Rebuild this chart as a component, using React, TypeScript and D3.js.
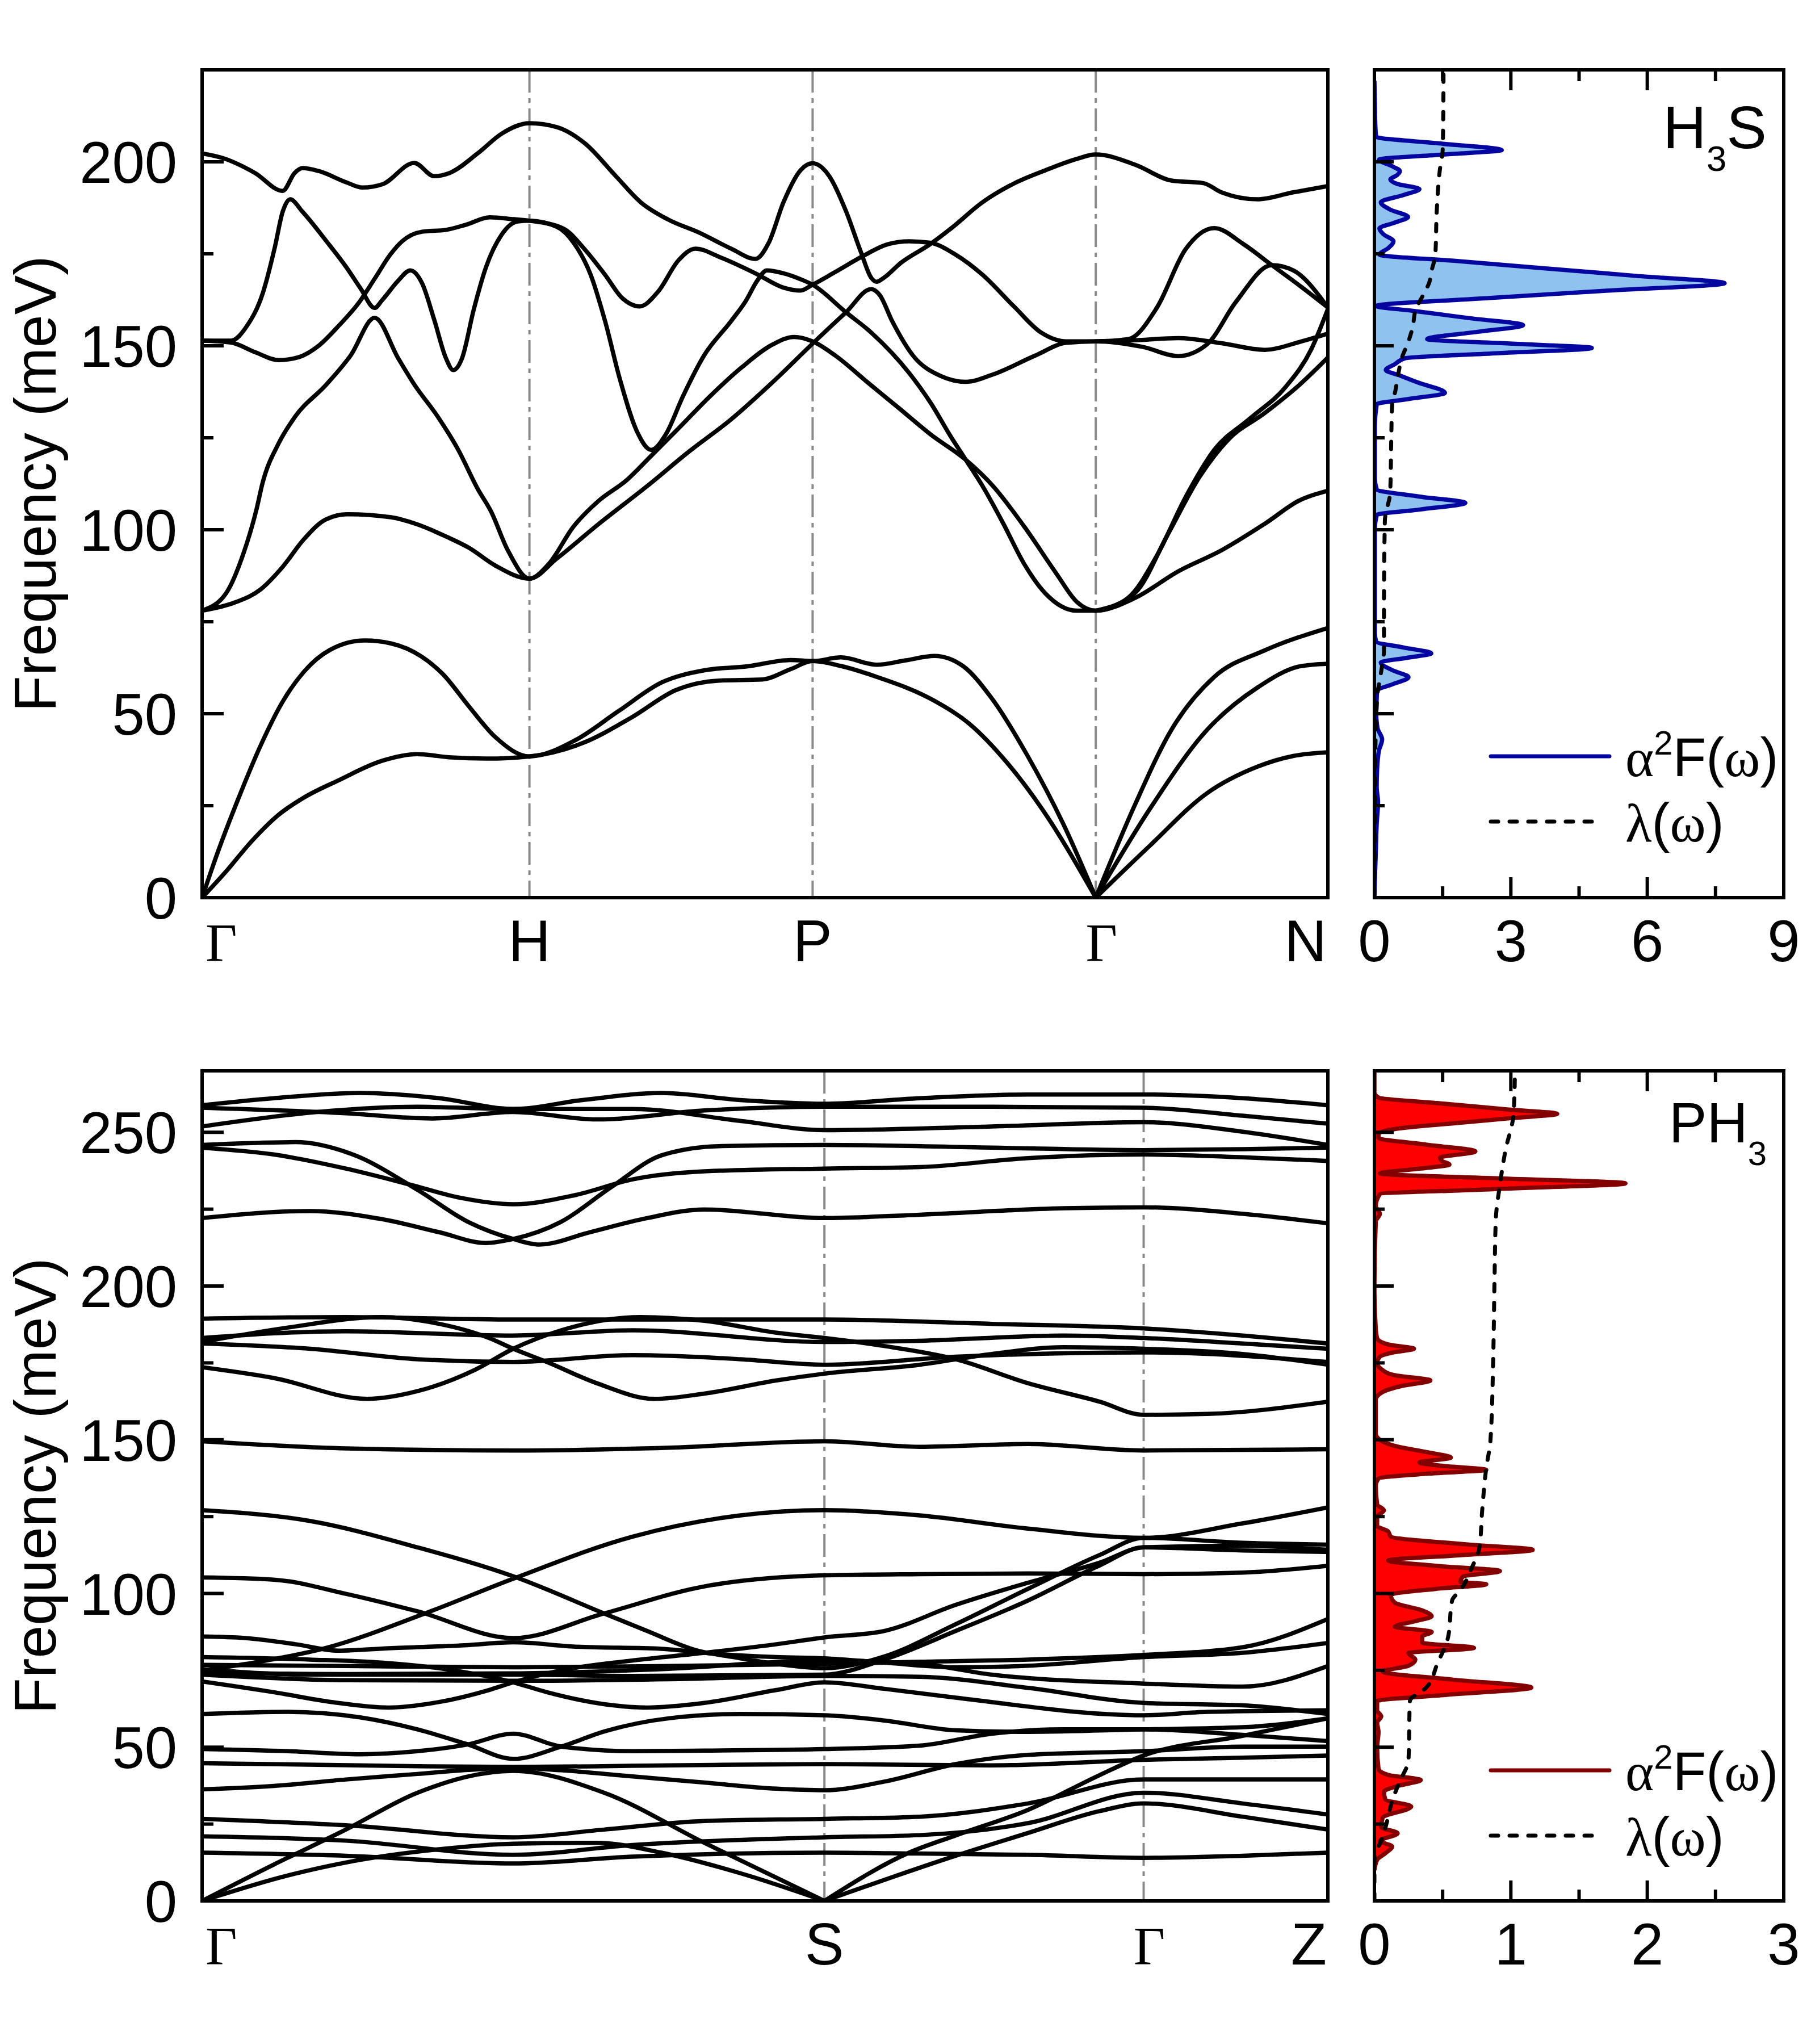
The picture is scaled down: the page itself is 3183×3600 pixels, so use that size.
import React from "react";
import * as d3 from "d3";

type Pt = [number, number];

// ---------- data: H3S phonon branches, [k (path distance), frequency meV] ----------
const h3sPoints = [
  { label: "Γ", k: 0 },
  { label: "H", k: 1.0 },
  { label: "P", k: 1.865 },
  { label: "Γ", k: 2.73 },
  { label: "N", k: 3.439 },
];

const h3sBranches: Pt[][] = [
  [[0,0],[0.073,7.1],[0.152,15.4],[0.232,22.4],[0.311,27.2],[0.417,31.9],[0.55,37.2],[0.656,39.0],[0.762,38.1],[0.868,37.8],[1.0,38.4],[1.162,42.0],[1.316,49.2],[1.447,56.4],[1.579,59.0],[1.711,59.3],[1.798,62.1],[1.865,64.3],[1.95,63.0],[2.061,60.0],[2.237,53.5],[2.346,47.1],[2.456,37.0],[2.566,24.1],[2.73,0]],
  [[0,0],[0.046,11.9],[0.112,27.2],[0.179,41.4],[0.245,53.1],[0.311,61.4],[0.39,67.3],[0.497,69.9],[0.577,69.1],[0.669,65.6],[0.735,60.8],[0.815,52.0],[0.895,43.7],[1.0,38.4],[1.14,42.8],[1.272,50.7],[1.404,58.5],[1.535,61.8],[1.667,62.9],[1.798,64.6],[1.865,64.3],[1.952,65.3],[2.061,63.3],[2.15,64.5],[2.237,65.7],[2.325,62.9],[2.412,54.2],[2.522,38.5],[2.632,19.8],[2.73,0]],
  [[2.73,0],[2.851,25.5],[2.961,45.6],[3.092,60.0],[3.246,67.2],[3.439,73.3]],
  [[2.73,0],[2.895,24.1],[3.07,45.6],[3.224,57.1],[3.355,62.9],[3.439,63.6]],
  [[2.73,0],[2.895,14.1],[3.07,28.4],[3.224,35.6],[3.333,38.5],[3.439,39.5]],
  [[0,78],[0.099,80.2],[0.179,83.8],[0.245,89.8],[0.311,97.4],[0.378,102.8],[0.444,104.2],[0.577,103.4],[0.656,101.5],[0.749,98.0],[0.815,95.1],[0.895,90.3],[1.0,86.7],[1.058,90.6],[1.135,100.9],[1.212,107.9],[1.296,113.4],[1.372,120.1],[1.456,127.6],[1.552,136.3],[1.648,144.1],[1.744,150.4],[1.808,152.4],[1.865,151.2],[1.935,147.3],[2.031,140.2],[2.128,133.1],[2.224,126.0],[2.333,119.0],[2.416,111.9],[2.512,100.8],[2.608,88.3],[2.672,80.4],[2.73,78],[2.851,81.5],[2.982,88.7],[3.114,94.4],[3.246,101.6],[3.355,108.1],[3.439,110.6]],
  [[0,78],[0.073,82.7],[0.125,93.2],[0.165,105.1],[0.185,112.8],[0.234,123.5],[0.283,130.6],[0.38,139.5],[0.454,147.4],[0.527,157.6],[0.599,146.6],[0.648,139.5],[0.721,130.6],[0.782,121.8],[0.842,111.1],[0.882,105.1],[0.934,94.4],[1.0,86.7],[1.084,92.2],[1.212,101.6],[1.36,111.9],[1.488,121.3],[1.616,130.0],[1.744,140.2],[1.865,150.6],[1.967,159.1],[2.044,165.4],[2.07,163.8],[2.108,156.7],[2.172,147.3],[2.256,141.8],[2.333,140.2],[2.416,142.2],[2.544,147.3],[2.64,150.8],[2.73,151.2],[2.873,149.7],[2.982,147.2],[3.07,150.4],[3.158,161.9],[3.268,171.9],[3.333,170.5],[3.439,160.4]],
  [[0,151.4],[0.088,151.4],[0.137,155.4],[0.185,164.2],[0.222,176.7],[0.246,186.4],[0.269,189.8],[0.307,186.4],[0.38,178.4],[0.441,171.3],[0.484,165.6],[0.527,160.3],[0.551,162.5],[0.599,167.7],[0.636,170.5],[0.672,167.0],[0.709,157.1],[0.745,146.6],[0.767,143.4],[0.794,146.6],[0.83,159.9],[0.867,171.3],[0.915,180.2],[0.964,183.8],[1.0,184.0],[1.084,182.3],[1.135,178.0],[1.187,169.3],[1.231,156.7],[1.276,141.0],[1.328,126.8],[1.372,121.7],[1.417,126.0],[1.469,136.3],[1.533,147.3],[1.616,156.7],[1.661,162.2],[1.696,167.7],[1.725,170.5],[1.776,169.7],[1.828,168.1],[1.865,166.6],[1.967,159.1],[2.044,153.6],[2.16,142.6],[2.224,134.7],[2.288,125.2],[2.333,119.0],[2.384,111.9],[2.448,101.6],[2.512,90.6],[2.576,82.7],[2.672,78.0],[2.73,78],[2.829,81.5],[2.917,93.0],[3.004,108.8],[3.092,121.7],[3.202,130.3],[3.311,138.9],[3.388,149.0],[3.439,160.0]],
  [[0,151.4],[0.088,150.9],[0.161,148.3],[0.234,146.1],[0.295,146.9],[0.356,150.0],[0.417,155.4],[0.478,161.6],[0.527,168.2],[0.575,174.8],[0.611,178.4],[0.672,181.0],[0.745,181.5],[0.806,182.9],[0.879,184.9],[0.952,184.4],[1.0,184.0],[1.103,181.9],[1.167,176.4],[1.231,169.3],[1.283,163.0],[1.337,160.7],[1.392,164.6],[1.456,173.3],[1.507,176.4],[1.584,174.0],[1.69,169.7],[1.776,165.8],[1.828,165.0],[1.865,166.6],[1.935,170.1],[2.019,174.4],[2.095,177.6],[2.16,178.4],[2.224,178.0],[2.301,174.8],[2.384,169.3],[2.48,160.7],[2.563,153.6],[2.64,151.2],[2.73,151.2],[2.829,151.8],[2.917,160.4],[3.004,176.2],[3.092,182.0],[3.18,177.7],[3.268,171.9],[3.355,166.2],[3.439,160.4]],
  [[0,202.3],[0.064,201.0],[0.161,197.0],[0.246,192.1],[0.283,197.0],[0.307,198.3],[0.356,197.5],[0.441,194.4],[0.49,193.0],[0.551,193.9],[0.648,199.7],[0.709,196.1],[0.757,197.0],[0.842,202.3],[0.916,207.7],[1.0,210.5],[1.085,209.4],[1.171,204.9],[1.264,196.1],[1.34,189.0],[1.424,184.3],[1.52,180.7],[1.616,176.4],[1.69,173.6],[1.731,178.0],[1.776,189.0],[1.828,197.7],[1.865,199.6],[1.916,196.1],[1.967,186.6],[2.012,175.6],[2.044,168.5],[2.06,167.4],[2.083,168.5],[2.134,172.5],[2.224,177.6],[2.288,181.9],[2.384,189.0],[2.48,194.1],[2.576,197.7],[2.672,200.8],[2.73,202.0],[2.851,199.2],[2.961,194.9],[3.059,194.2],[3.114,191.7],[3.224,189.8],[3.333,191.7],[3.439,193.4]],
  [[2.73,151.2],[2.85,151.5],[2.982,152.1],[3.114,150.7],[3.246,148.9],[3.355,151.1],[3.439,153.3]],
  [[2.73,78],[2.851,82.9],[2.95,98.7],[3.048,114.5],[3.136,124.6],[3.246,131.7],[3.355,139.6],[3.439,146.8]],
];

// ---------- data: PH3 phonon branches ----------
const ph3Points = [
  { label: "Γ", k: 0 },
  { label: "S", k: 1 },
  { label: "Γ", k: 1.513 },
  { label: "Z", k: 1.809 },
];

const ph3Branches: Pt[][] = [
  [[0,258.8],[0.115,261.1],[0.254,262.8],[0.381,261.1],[0.5,257.6],[0.611,260.5],[0.738,262.8],[0.865,260.5],[1,259.3],[1.153,261.1],[1.327,262.3],[1.513,262.3],[1.672,261.1],[1.809,258.8]],
  [[0,258.0],[0.231,256.2],[0.369,254.5],[0.5,256.6],[0.634,254.2],[0.807,257.1],[1,258.3],[1.269,258.3],[1.513,258.0],[1.672,255.4],[1.809,252.8]],
  [[0,251.9],[0.185,256.6],[0.346,258.3],[0.5,257.6],[0.692,257.6],[0.865,253.7],[1,250.7],[1.269,251.9],[1.513,253.3],[1.672,250.2],[1.809,245.9]],
  [[0,245.9],[0.15,246.8],[0.242,242.8],[0.346,231.3],[0.427,220.9],[0.5,215.3],[0.542,213.5],[0.623,217.5],[0.715,222.1],[0.807,224.9],[1,222.1],[1.153,223.2],[1.384,225.3],[1.513,225.6],[1.672,223.5],[1.809,220.4]],
  [[0,222.1],[0.173,224.4],[0.288,221.8],[0.381,217.5],[0.456,214.0],[0.5,215.3],[0.577,220.9],[0.657,232.1],[0.738,242.5],[0.83,245.5],[1,245.9],[1.269,245.0],[1.513,244.2],[1.672,244.5],[1.809,245.0]],
  [[0,245.0],[0.115,242.8],[0.231,238.2],[0.334,233.0],[0.415,228.7],[0.5,226.6],[0.6,229.6],[0.692,234.7],[0.807,237.3],[1,238.2],[1.153,238.7],[1.327,241.6],[1.513,242.8],[1.672,241.9],[1.809,240.7]],
  [[0,189.4],[0.231,189.9],[0.5,189.1],[0.807,189.1],[1,189.1],[1.269,187.7],[1.513,186.2],[1.672,183.9],[1.809,181.3]],
  [[0,181.8],[0.138,186.5],[0.288,189.9],[0.381,187.7],[0.461,183.1],[0.5,179.6],[0.554,175.3],[0.634,168.4],[0.727,163.3],[0.807,165.0],[0.923,169.3],[1,171.5],[1.153,174.4],[1.269,177.9],[1.384,180.1],[1.513,179.6],[1.672,177.9],[1.809,174.4]],
  [[0,173.6],[0.115,170.1],[0.265,163.3],[0.346,165.8],[0.438,172.7],[0.5,179.6],[0.577,185.6],[0.704,189.9],[0.807,188.7],[0.923,184.8],[1,183.1],[1.096,180.5],[1.211,176.2],[1.327,168.4],[1.442,162.4],[1.513,158.1],[1.615,158.4],[1.809,162.4]],
  [[0,183.1],[0.231,185.3],[0.5,183.9],[0.692,185.6],[1,181.8],[1.153,182.2],[1.384,183.9],[1.513,183.1],[1.672,181.3],[1.809,179.6]],
  [[0,181.3],[0.173,179.6],[0.346,176.2],[0.5,175.3],[0.692,177.5],[0.865,176.2],[1,174.4],[1.211,177.0],[1.513,178.4],[1.809,175.3]],
  [[0,149.5],[0.231,147.2],[0.5,146.5],[0.75,147.4],[1,149.5],[1.153,147.7],[1.327,148.6],[1.513,146.5],[1.809,146.9]],
  [[0,105.2],[0.115,104.5],[0.231,99.9],[0.346,94.2],[0.5,85.5],[0.646,93.5],[0.807,102.3],[1,105.9],[1.153,106.3],[1.327,106.5],[1.513,106.3],[1.672,106.8],[1.809,109.0]],
  [[0,75.0],[0.092,77.8],[0.196,82.1],[0.358,93.5],[0.5,104.8],[0.692,118.5],[0.865,125.4],[1,127.1],[1.153,125.4],[1.327,121.1],[1.513,118.1],[1.672,122.8],[1.809,128.0]],
  [[0,127.1],[0.173,123.6],[0.346,115.0],[0.5,105.6],[0.646,93.5],[0.715,87.8],[0.796,81.4],[0.854,79.3],[0.923,77.1],[1,75.7],[1.096,79.5],[1.211,90.0],[1.327,101.5],[1.442,112.5],[1.513,118.1],[1.672,116.5],[1.809,115.9]],
  [[0,60.8],[0.138,61.5],[0.254,59.7],[0.346,55.8],[0.427,50.9],[0.5,46.2],[0.577,50.2],[0.646,55.1],[0.75,59.4],[0.865,60.8],[1,60.4],[1.096,58.7],[1.211,55.5],[1.327,55.0],[1.513,55.8],[1.672,56.5],[1.809,59.4]],
  [[0,49.4],[0.138,48.7],[0.254,47.7],[0.346,48.7],[0.427,50.9],[0.5,54.4],[0.577,50.2],[0.692,48.7],[0.807,48.9],[1,49.4],[1.153,50.5],[1.269,54.4],[1.384,55.8],[1.513,55.8],[1.672,54.0],[1.809,52.0]],
  [[0,44.8],[0.346,43.8],[0.5,43.6],[0.75,44.1],[1,44.5],[1.269,44.1],[1.513,45.9],[1.672,46.6],[1.809,47.3]],
  [[0,36.3],[0.115,37.4],[0.231,39.5],[0.346,41.3],[0.427,42.6],[0.5,43.3],[0.577,42.5],[0.692,40.5],[0.807,38.5],[0.923,36.5],[1,36.0],[1.096,38.8],[1.211,44.5],[1.327,47.5],[1.513,48.7],[1.672,50.2],[1.809,50.2]],
  [[0,0],[0.115,11.8],[0.231,23.2],[0.346,35.2],[0.5,42.3],[0.646,35.2],[0.807,18.9],[1,0]],
  [[1,0],[1.136,15.7],[1.211,21.3],[1.327,29.6],[1.442,40.9],[1.513,47.3],[1.672,53.7],[1.809,59.4]],
  [[0,0],[0.138,8.3],[0.231,12.5],[0.381,16.8],[0.5,18.6],[0.634,18.9],[0.738,15.7],[0.865,9.0],[1,0]],
  [[1,0],[1.211,14.7],[1.327,22.1],[1.442,29.2],[1.513,31.7],[1.672,27.4],[1.809,23.2]],
  [[0,26.7],[0.231,24.6],[0.5,20.7],[0.646,23.2],[0.807,26.0],[1,26.7],[1.153,27.4],[1.327,31.7],[1.513,39.5],[1.672,39.5],[1.809,39.5]],
  [[0,21.0],[0.231,19.6],[0.5,15.0],[0.692,18.2],[1,20.7],[1.153,21.4],[1.327,25.3],[1.513,35.2],[1.672,31.7],[1.809,28.1]],
  [[0,15.7],[0.231,14.7],[0.5,12.2],[0.692,14.4],[1,15.7],[1.153,15.4],[1.327,15.0],[1.513,14.0],[1.672,14.7],[1.809,15.7]],
  [[0,71.4],[0.115,67.9],[0.208,64.7],[0.3,62.9],[0.381,64.7],[0.461,68.6],[0.5,71.1],[0.577,75.0],[0.692,78.2],[0.807,80.7],[0.923,83.5],[1,85.7],[1.096,87.8],[1.211,96.3],[1.327,103.5],[1.442,110.0],[1.513,115.0],[1.672,115.5],[1.809,114.2]],
  [[0,79.3],[0.173,78.5],[0.288,77.5],[0.404,75.0],[0.5,71.1],[0.554,67.9],[0.646,64.0],[0.715,62.9],[0.807,64.4],[0.923,68.6],[1,71.1],[1.096,69.0],[1.211,66.1],[1.513,60.4],[1.615,61.5],[1.809,62.0]],
  [[0,86.0],[0.069,85.5],[0.15,83.5],[0.219,81.4],[0.3,82.2],[0.427,83.2],[0.5,84.1],[0.6,82.7],[0.738,82.0],[0.83,80.3],[0.923,79.3],[1,78.9],[1.096,77.5],[1.211,76.0],[1.327,76.5],[1.513,79.3],[1.672,80.7],[1.809,83.9]],
  [[0,74.3],[0.231,73.8],[0.5,74.0],[0.75,75.5],[1,78.2],[1.153,77.1],[1.269,73.6],[1.513,70.7],[1.672,69.7],[1.809,76.4]],
  [[0,76.8],[0.231,76.4],[0.5,76.0],[0.75,76.4],[1,77.1],[1.153,77.8],[1.327,78.5],[1.513,80.0],[1.672,82.5],[1.809,91.7]],
  [[0,75.4],[0.173,73.6],[0.346,73.6],[0.5,73.6],[0.692,73.2],[1,73.6],[1.096,78.5],[1.211,87.8],[1.327,97.7],[1.442,109.1],[1.513,115.0],[1.672,114.0],[1.809,113.5]],
  [[0,73.6],[0.231,71.8],[0.5,71.6],[0.75,72.1],[1,73.2],[1.153,72.9],[1.327,69.3],[1.513,64.4],[1.672,63.6],[1.809,60.8]],
];

// ---------- data: Eliashberg function and lambda, [frequency meV, value] ----------
const h3sA2F: Pt[] = [
  [0,0],[5,0.01],[12,0.03],[20,0.05],[26,0.08],[30,0.05],[35,0.06],[40,0.1],[43,0.17],[46,0.07],[50,0.04],[54,0.05],[56.3,0.06],[58,0.4],[59.9,0.75],[61.8,0.4],[63.9,0.14],[65.2,0.72],[66.4,1.25],[68,0.64],[69.6,0.04],[72,0.01],[85,0.01],[100,0.01],[104,0.05],[105.5,1.0],[107.3,2.0],[109,1.0],[111,0.05],[114,0.01],[128,0.01],[134.1,0.05],[135.5,0.73],[137.2,1.55],[140,0.96],[142,0.54],[143.4,0.25],[145,0.45],[146.6,0.67],[148,2.73],[149.4,4.78],[150.6,2.97],[151.8,1.16],[153.8,2.27],[155.6,3.27],[157.5,2.09],[159.5,0.85],[160.8,0.04],[163,2.55],[165,5.15],[167,7.7],[169,5.75],[171,3.8],[173,1.86],[174.8,0.11],[176.5,0.3],[178.4,0.42],[180.3,0.2],[181.9,0.11],[183.5,0.45],[185,0.74],[187,0.35],[189,0.14],[191,0.65],[192.6,0.99],[194,0.5],[195.2,0.35],[196.4,0.5],[197.5,0.56],[198.8,0.39],[200.6,0.1],[202,1.55],[203.2,2.8],[205,1.42],[206.8,0.04],[210,0.02],[216,0.01],[222,0],
];
const h3sLambda: Pt[] = [
  [0,0],[30,0.01],[45,0.03],[55.6,0.07],[58,0.1],[60.8,0.14],[64,0.18],[67,0.21],[78.5,0.21],[102.5,0.23],[106,0.28],[108.5,0.33],[111.1,0.35],[124.4,0.37],[134,0.39],[137.7,0.46],[142,0.52],[146.6,0.6],[150.9,0.74],[155,0.84],[159.9,0.91],[164.2,1.09],[167,1.2],[170.5,1.26],[174.8,1.34],[186.4,1.37],[197.9,1.44],[203,1.5],[208.5,1.51],[225,1.52],
];
const ph3A2F: Pt[] = [
  [10,0],[13.4,0.02],[15.5,0.08],[17.7,0.13],[19.5,0.04],[22,0.17],[24,0.05],[27,0.06],[30.7,0.27],[33,0.08],[35.5,0.07],[37.5,0.18],[39.3,0.34],[41,0.1],[43,0.03],[50,0.02],[55,0.03],[58,0.02],[60,0.05],[62,0.02],[65,0.02],[67,0.52],[69.4,1.15],[72,0.57],[74.6,0.06],[76.5,0.25],[78.5,0.3],[80.6,0.25],[82.3,0.73],[84,0.35],[86,0.35],[87.5,0.42],[89.2,0.15],[91,0.3],[92.6,0.42],[94.5,0.35],[97,0.15],[99.5,0.12],[101.5,0.45],[103,0.82],[103.8,0.63],[105.5,0.65],[107.3,0.92],[109,0.45],[110.7,0.1],[112.5,0.65],[114.2,1.16],[116,0.67],[118.5,0.12],[120.2,0.1],[122,0.02],[125,0.02],[127,0.07],[129,0.02],[135,0.01],[137.4,0.03],[139,0.4],[140.2,0.82],[141.5,0.5],[142.6,0.33],[144.2,0.56],[146,0.38],[148,0.15],[150,0.04],[152,0.01],[163,0.01],[165.5,0.06],[167.5,0.2],[169.3,0.41],[171,0.15],[173,0.05],[175,0.02],[177,0.04],[178.5,0.15],[179.6,0.29],[181,0.1],[183,0.02],[186,0.01],[200,0],[221,0.01],[223.5,0.04],[226,0.01],[229.9,0.04],[231.5,0.87],[233.4,1.84],[235,0.92],[236.6,0.04],[238.5,0.4],[239.5,0.55],[240.6,0.5],[241.7,0.48],[243.8,0.74],[246,0.38],[248.2,0.03],[249.5,0.03],[251.2,0.17],[253,0.6],[254.6,1.0],[256,1.34],[257.5,0.96],[259.5,0.46],[261.3,0.03],[263,0],[270,0],
];
const ph3Lambda: Pt[] = [
  [0,0],[15,0],[18.6,0.04],[23.8,0.08],[32.4,0.13],[39.3,0.19],[44,0.24],[46,0.25],[65,0.26],[69.4,0.38],[77,0.46],[85.8,0.54],[97.8,0.57],[101,0.63],[108,0.71],[115,0.77],[127,0.79],[140.9,0.82],[149.5,0.85],[175,0.87],[201,0.88],[221.8,0.89],[233,0.92],[244,0.96],[256,1.02],[270,1.03],
];

const h3sFreqTicks = [0, 50, 100, 150, 200];
const h3sFreqMinor = [25, 75, 125, 175];
const ph3FreqTicks = [0, 50, 100, 150, 200, 250];
const ph3FreqMinor = [25, 75, 125, 175, 225];
const h3sDosTicks = [0, 3, 6, 9];
const h3sDosMinor = [1.5, 4.5, 7.5];
const ph3DosTicks = [0, 1, 2, 3];
const ph3DosMinor = [0.5, 1.5, 2.5];

// ---------- layout ----------
const W = 3183;
const H = 3600;
const sans = "'Liberation Sans', Arial, Helvetica, sans-serif";
const serif = "'Liberation Serif', 'Times New Roman', serif";
const bandX: [number, number] = [356, 2339];
const dosX: [number, number] = [2421, 3142];
const FS = 103;

function BandPanel({ id, branches, points, yMax, yRange, ticks, minor }: any) {
  const x = d3.scaleLinear().domain([0, points[points.length - 1].k]).range(bandX);
  const y = d3.scaleLinear().domain([0, yMax]).range(yRange);
  const line = d3.line<Pt>().x((d) => x(d[0])).y((d) => y(d[1])).curve(d3.curveMonotoneX);
  const top = yRange[1];
  const bottom = yRange[0];
  return (
    <g>
      <clipPath id={id}>
        <rect x={bandX[0]} y={top} width={bandX[1] - bandX[0]} height={bottom - top} />
      </clipPath>
      {points.slice(1, -1).map((p: any, i: number) => (
        <line key={i} x1={x(p.k)} x2={x(p.k)} y1={top} y2={bottom} stroke="#8a8a8a" strokeWidth={4} strokeDasharray="40 10 8 10" />
      ))}
      <g clipPath={`url(#${id})`}>
        {branches.map((b: Pt[], i: number) => (
          <path key={i} d={line(b) || ""} fill="none" stroke="#000" strokeWidth={7.5} strokeLinejoin="round" strokeLinecap="round" />
        ))}
      </g>
      <rect x={bandX[0]} y={top} width={bandX[1] - bandX[0]} height={bottom - top} fill="none" stroke="#000" strokeWidth={6} />
      {ticks.map((t: number) => (
        <g key={"t" + t}>
          <line x1={bandX[0]} x2={bandX[0] + 38} y1={y(t)} y2={y(t)} stroke="#000" strokeWidth={6} />
          <text x={bandX[0] - 44} y={y(t)} dy="0.36em" textAnchor="end" fontFamily={sans} fontSize={FS}>{t}</text>
        </g>
      ))}
      {minor.map((t: number) => (
        <line key={"m" + t} x1={bandX[0]} x2={bandX[0] + 20} y1={y(t)} y2={y(t)} stroke="#000" strokeWidth={6} />
      ))}
      {points.map((p: any, i: number) => {
        const first = i === 0;
        const last = i === points.length - 1;
        const isG = p.label === "Γ";
        const px = first ? bandX[0] + 6 : last ? bandX[1] - 2 : x(p.k) + (isG ? 10 : 0);
        return (
          <text key={"l" + i} x={px} y={bottom + 112} textAnchor={first ? "start" : last ? "end" : "middle"}
            fontFamily={isG ? serif : sans} fontSize={isG ? 96 : FS}>{p.label}</text>
        );
      })}
      <text transform={`translate(98,${(top + bottom) / 2}) rotate(-90)`} textAnchor="middle" fontFamily={sans} fontSize={104}>
        Frequency (meV)
      </text>
    </g>
  );
}

function DosPanel({ id, a2f, lambda, xMax, xTicks, xMinor, yMax, yRange, fTicks, fMinor, stroke, fill, title, legendY }: any) {
  const x = d3.scaleLinear().domain([0, xMax]).range(dosX);
  const y = d3.scaleLinear().domain([0, yMax]).range(yRange);
  const top = yRange[1];
  const bottom = yRange[0];
  const curve = d3.line<Pt>().x((d) => x(d[1])).y((d) => y(d[0])).curve(d3.curveMonotoneY);
  const area = d3.area<Pt>().y((d) => y(d[0])).x0(x(0)).x1((d) => x(d[1])).curve(d3.curveMonotoneY);
  const lam = d3.line<Pt>().x((d) => x(d[1])).y((d) => y(d[0])).curve(d3.curveMonotoneY);
  return (
    <g>
      <clipPath id={id}>
        <rect x={dosX[0]} y={top} width={dosX[1] - dosX[0]} height={bottom - top} />
      </clipPath>
      <g clipPath={`url(#${id})`}>
        <path d={area(a2f) || ""} fill={fill} stroke="none" />
        <path d={curve(a2f) || ""} fill="none" stroke={stroke} strokeWidth={7.5} strokeLinejoin="round" />
        <path d={lam(lambda) || ""} fill="none" stroke="#000" strokeWidth={7} strokeDasharray="13 20" strokeLinecap="round" />
      </g>
      <rect x={dosX[0]} y={top} width={dosX[1] - dosX[0]} height={bottom - top} fill="none" stroke="#000" strokeWidth={6} />
      {fTicks.map((t: number) => (
        <line key={"f" + t} x1={dosX[0]} x2={dosX[0] + 34} y1={y(t)} y2={y(t)} stroke="#000" strokeWidth={6} />
      ))}
      {fMinor.map((t: number) => (
        <line key={"fm" + t} x1={dosX[0]} x2={dosX[0] + 18} y1={y(t)} y2={y(t)} stroke="#000" strokeWidth={6} />
      ))}
      {xTicks.map((t: number) => (
        <g key={"x" + t}>
          <line x1={x(t)} x2={x(t)} y1={bottom} y2={bottom - 36} stroke="#000" strokeWidth={6} />
          <line x1={x(t)} x2={x(t)} y1={top} y2={top + 36} stroke="#000" strokeWidth={6} />
          <text x={x(t)} y={bottom + 112} textAnchor="middle" fontFamily={sans} fontSize={FS}>{t}</text>
        </g>
      ))}
      {xMinor.map((t: number) => (
        <g key={"xm" + t}>
          <line x1={x(t)} x2={x(t)} y1={bottom} y2={bottom - 20} stroke="#000" strokeWidth={6} />
          <line x1={x(t)} x2={x(t)} y1={top} y2={top + 20} stroke="#000" strokeWidth={6} />
        </g>
      ))}
      <text x={3112} y={top + title.dy} textAnchor="end" fontFamily={sans} fontSize={title.size}>
        {title.main}
        <tspan fontSize={title.size * 0.6} dy={40}>3</tspan>
        {title.tail ? <tspan dy={-40}>{title.tail}</tspan> : null}
      </text>
      <line x1={2626} x2={2835} y1={legendY} y2={legendY} stroke={stroke} strokeWidth={7} strokeLinecap="round" />
      <text x={2863} y={legendY + 35} fontFamily={sans} fontSize={96}>
        <tspan fontFamily={serif}>α</tspan>
        <tspan fontSize={60} dy={-38}>2</tspan>
        <tspan dy={38}>F(</tspan>
        <tspan fontFamily={serif}>ω</tspan>
        <tspan>)</tspan>
      </text>
      <line x1={2626} x2={2820} y1={legendY + 115} y2={legendY + 115} stroke="#000" strokeWidth={7} strokeDasharray="13 20" strokeLinecap="round" />
      <text x={2863} y={legendY + 150} fontFamily={sans} fontSize={96}>
        <tspan fontFamily={serif}>λ</tspan>
        <tspan>(</tspan>
        <tspan fontFamily={serif}>ω</tspan>
        <tspan>)</tspan>
      </text>
    </g>
  );
}

export default function App() {
  return (
    <svg width={W} height={H} viewBox={`0 0 ${W} ${H}`} style={{ position: "absolute", left: 0, top: 0, background: "#fff" }}>
      <rect x={0} y={0} width={W} height={H} fill="#fff" />
      <BandPanel id="clipTop" branches={h3sBranches} points={h3sPoints} yMax={225} yRange={[1581, 123]} ticks={h3sFreqTicks} minor={h3sFreqMinor} />
      <DosPanel id="clipTopDos" a2f={h3sA2F} lambda={h3sLambda} xMax={9} xTicks={h3sDosTicks} xMinor={h3sDosMinor}
        yMax={225} yRange={[1581, 123]} fTicks={h3sFreqTicks} fMinor={h3sFreqMinor}
        stroke="#0505a0" fill="#8fc2ee" title={{ main: "H", tail: "S", size: 106, dy: 138 }} legendY={1332} />
      <BandPanel id="clipBot" branches={ph3Branches} points={ph3Points} yMax={270} yRange={[3348, 1886]} ticks={ph3FreqTicks} minor={ph3FreqMinor} />
      <DosPanel id="clipBotDos" a2f={ph3A2F} lambda={ph3Lambda} xMax={3} xTicks={ph3DosTicks} xMinor={ph3DosMinor}
        yMax={270} yRange={[3348, 1886]} fTicks={ph3FreqTicks} fMinor={ph3FreqMinor}
        stroke="#820000" fill="#ff0000" title={{ main: "PH", tail: "", size: 100, dy: 126 }} legendY={3118} />
    </svg>
  );
}
